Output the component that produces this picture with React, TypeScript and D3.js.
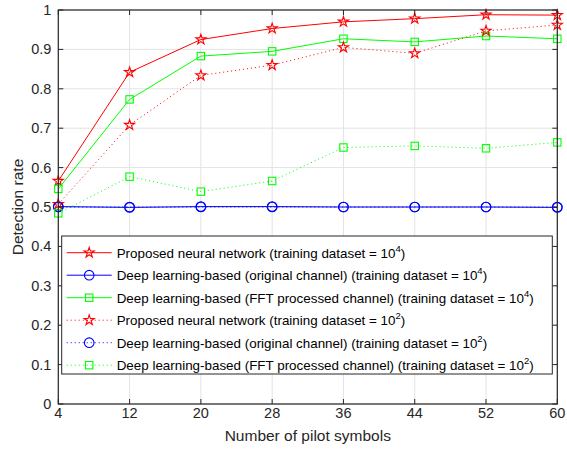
import React from "react";
import * as d3 from "d3";

const pilots = [4, 12, 20, 28, 36, 44, 52, 60];
const proposed1e4 = [0.566, 0.842, 0.925, 0.953, 0.97, 0.978, 0.988, 0.987];
const original1e4 = [0.501, 0.499, 0.501, 0.501, 0.5, 0.5, 0.5, 0.499];
const fft1e4 = [0.546, 0.773, 0.883, 0.895, 0.927, 0.919, 0.934, 0.927];
const proposed1e2 = [0.507, 0.708, 0.834, 0.86, 0.905, 0.89, 0.947, 0.962];
const original1e2 = [0.5, 0.5, 0.5, 0.5, 0.5, 0.5, 0.5, 0.5];
const fft1e2 = [0.484, 0.577, 0.539, 0.566, 0.651, 0.655, 0.649, 0.664];
const yTicks = [0, 0.1, 0.2, 0.3, 0.4, 0.5, 0.6, 0.7, 0.8, 0.9, 1];
const yTickLabels = ["0", "0.1", "0.2", "0.3", "0.4", "0.5", "0.6", "0.7", "0.8", "0.9", "1"];

type Series = { name: string; exp: string; values: number[]; color: string; marker: string; dotted: boolean };
const series: Series[] = [
  { name: "Proposed neural network (training dataset = 10", exp: "4", values: proposed1e4, color: "#ff0000", marker: "star", dotted: false },
  { name: "Deep learning-based (original channel) (training dataset = 10", exp: "4", values: original1e4, color: "#0000ff", marker: "circle", dotted: false },
  { name: "Deep learning-based (FFT processed channel) (training dataset = 10", exp: "4", values: fft1e4, color: "#00ff00", marker: "square", dotted: false },
  { name: "Proposed neural network (training dataset = 10", exp: "2", values: proposed1e2, color: "#ff0000", marker: "star", dotted: true },
  { name: "Deep learning-based (original channel) (training dataset = 10", exp: "2", values: original1e2, color: "#0000ff", marker: "circle", dotted: true },
  { name: "Deep learning-based (FFT processed channel) (training dataset = 10", exp: "2", values: fft1e2, color: "#00ff00", marker: "square", dotted: true },
];

const W = 567, H = 456;
const L = 58.3, R = 557.3, T = 10, B = 404;
const FONT = "'Liberation Sans', Arial, Helvetica, sans-serif";

function Marker({ kind, x, y, color }: { kind: string; x: number; y: number; color: string }) {
  if (kind === "circle") return <circle cx={x} cy={y} r={4.8} fill="none" stroke={color} strokeWidth={1.1} />;
  if (kind === "square") return <rect x={x - 3.7} y={y - 3.7} width={7.4} height={7.4} fill="none" stroke={color} strokeWidth={1.1} />;
  const p = d3.symbol(d3.symbolStar, 32)();
  return <path d={p || ""} transform={`translate(${x},${y})`} fill="none" stroke={color} strokeWidth={1.1} />;
}

export default function App() {
  const x = d3.scaleLinear().domain([4, 60]).range([L, R]);
  const y = d3.scaleLinear().domain([0, 1]).range([B, T]);
  const line = d3.line<number>().x((_, i) => x(pilots[i])).y((d) => y(d));

  const legX = 61.7, legY = 236, legW = 490.6, legH = 138;
  const rowY0 = 252.7, rowDy = 22.5;

  return (
    <svg width={W} height={H} style={{ position: "absolute", left: 0, top: 0, background: "#fff" }} fontFamily={FONT}>
      <rect width={W} height={H} fill="#fff" />
      {pilots.map((p) => (
        <line key={"gx" + p} x1={x(p)} x2={x(p)} y1={T} y2={B} stroke="#e3e3e3" strokeWidth={1} />
      ))}
      {yTicks.map((t) => (
        <line key={"gy" + t} x1={L} x2={R} y1={y(t)} y2={y(t)} stroke="#e3e3e3" strokeWidth={1} />
      ))}
      {series.map((s, si) => (
        <g key={"s" + si}>
          <path d={line(s.values) || ""} fill="none" stroke={s.color} strokeWidth={1} strokeDasharray={s.dotted ? "1,3" : undefined} />
          {s.values.map((v, i) => (
            <Marker key={i} kind={s.marker} x={x(pilots[i])} y={y(v)} color={s.color} />
          ))}
        </g>
      ))}
      <rect x={L} y={T} width={R - L} height={B - T} fill="none" stroke="#262626" strokeWidth={1.2} />
      {pilots.map((p) => (
        <g key={"tx" + p}>
          <line x1={x(p)} x2={x(p)} y1={B} y2={B - 5} stroke="#262626" />
          <line x1={x(p)} x2={x(p)} y1={T} y2={T + 5} stroke="#262626" />
          <text x={x(p)} y={418} textAnchor="middle" fontSize={14.5} fill="#262626">{p}</text>
        </g>
      ))}
      {yTicks.map((t, i) => (
        <g key={"ty" + t}>
          <line x1={L} x2={L + 5} y1={y(t)} y2={y(t)} stroke="#262626" />
          <line x1={R} x2={R - 5} y1={y(t)} y2={y(t)} stroke="#262626" />
          <text x={L - 7} y={y(t) + 5} textAnchor="end" fontSize={14.5} fill="#262626">{yTickLabels[i]}</text>
        </g>
      ))}
      <text x={(L + R) / 2} y={441} textAnchor="middle" fontSize={15.5} fill="#262626">Number of pilot symbols</text>
      <text transform={`translate(23,${(T + B) / 2}) rotate(-90)`} textAnchor="middle" fontSize={15.5} fill="#262626">Detection rate</text>
      <rect x={legX} y={legY} width={legW} height={legH} fill="#fff" stroke="#262626" strokeWidth={1} />
      {series.map((s, i) => {
        const ry = rowY0 + i * rowDy;
        return (
          <g key={"l" + i}>
            <line x1={66.7} x2={111.7} y1={ry} y2={ry} stroke={s.color} strokeWidth={1} strokeDasharray={s.dotted ? "1,3" : undefined} />
            <Marker kind={s.marker} x={89.2} y={ry} color={s.color} />
            <text x={116.7} y={ry + 5} fontSize={13.4} fill="#000">
              {s.name}
              <tspan dy={-6} fontSize={9.5}>{s.exp}</tspan>
              <tspan dy={6}>)</tspan>
            </text>
          </g>
        );
      })}
    </svg>
  );
}
